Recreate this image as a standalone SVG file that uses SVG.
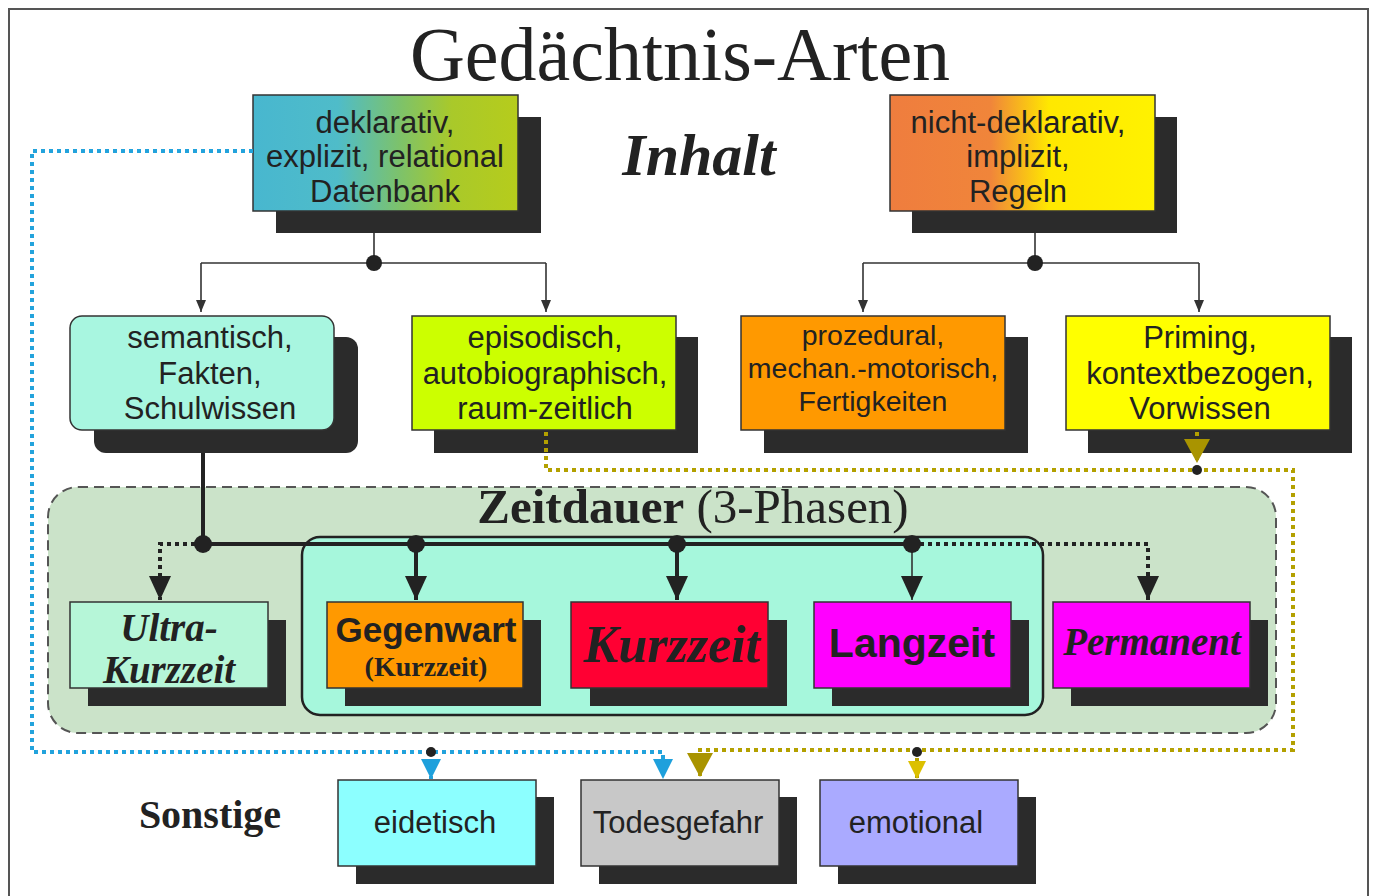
<svg xmlns="http://www.w3.org/2000/svg" width="1375" height="896" viewBox="0 0 1375 896">
  <style>
    .sans { font-family: "Liberation Sans", Arial, sans-serif; fill: #222; text-anchor: middle; }
    .serif { font-family: "Liberation Serif", "Times New Roman", serif; fill: #222; text-anchor: middle; }
    .box { stroke: #333; stroke-width: 1.5; }
    .shadow { fill: #2b2b2b; }
    .thin { fill: none; stroke: #333; stroke-width: 1.6; }
    .thick { fill: none; stroke: #222; stroke-width: 4; }
    .dotBlack { fill: none; stroke: #222; stroke-width: 4; stroke-dasharray: 4 4; }
    .dotBlue { fill: none; stroke: #23a3dc; stroke-width: 4; stroke-dasharray: 4 4; }
    .dotGold { fill: none; stroke: #b3a000; stroke-width: 4; stroke-dasharray: 4 4; }
    .joint { fill: #222; }
  </style>
  <defs>
    <linearGradient id="gradDekl" x1="0" y1="0" x2="1" y2="0">
      <stop offset="0" stop-color="#48b7cf"/>
      <stop offset="0.32" stop-color="#4fbcc9"/>
      <stop offset="0.55" stop-color="#7cc26c"/>
      <stop offset="0.75" stop-color="#a9c92a"/>
      <stop offset="1" stop-color="#b6cc1c"/>
    </linearGradient>
    <linearGradient id="gradNicht" x1="0" y1="0" x2="1" y2="0">
      <stop offset="0" stop-color="#ef7d3e"/>
      <stop offset="0.38" stop-color="#f0853a"/>
      <stop offset="0.6" stop-color="#ffe800"/>
      <stop offset="1" stop-color="#fff200"/>
    </linearGradient>
    <marker id="arrowThin" viewBox="0 0 12 10" refX="12" refY="5" markerWidth="12" markerHeight="10" markerUnits="userSpaceOnUse" orient="auto">
      <path d="M0,0 L12,5 L0,10 z" fill="#333"/>
    </marker>
    <marker id="arrowBig" viewBox="0 0 24 22" refX="24" refY="11" markerWidth="24" markerHeight="22" markerUnits="userSpaceOnUse" orient="auto">
      <path d="M0,0 L24,11 L0,22 z" fill="#222"/>
    </marker>
    <marker id="arrowBlue" viewBox="0 0 20 20" refX="20" refY="10" markerWidth="20" markerHeight="20" markerUnits="userSpaceOnUse" orient="auto">
      <path d="M0,0 L20,10 L0,20 z" fill="#1ea0dc"/>
    </marker>
    <marker id="arrowOlive" viewBox="0 0 24 26" refX="24" refY="13" markerWidth="24" markerHeight="26" markerUnits="userSpaceOnUse" orient="auto">
      <path d="M0,0 L24,13 L0,26 z" fill="#a99400"/>
    </marker>
    <marker id="arrowYellow" viewBox="0 0 18 18" refX="18" refY="9" markerWidth="18" markerHeight="18" markerUnits="userSpaceOnUse" orient="auto">
      <path d="M0,0 L18,9 L0,18 z" fill="#dcc000"/>
    </marker>
  </defs>

  <!-- page -->
  <rect x="0" y="0" width="1375" height="896" fill="#ffffff"/>
  <rect x="9" y="9" width="1359" height="900" fill="none" stroke="#555" stroke-width="2"/>

  <text class="serif" x="680" y="80" font-size="76">Gedächtnis-Arten</text>
  <text class="serif" x="699" y="175" font-size="60" font-weight="bold" font-style="italic">Inhalt</text>

  <!-- duration panel -->
  <g id="panel-zeitdauer">
    <rect x="48" y="487" width="1228" height="246" rx="30" fill="#cbe3c9" stroke="#555" stroke-width="2" stroke-dasharray="10 6"/>
    <rect x="302" y="537" width="741" height="178" rx="18" fill="#a6f7dc" stroke="#222" stroke-width="2.5"/>
    <text class="serif" x="693" y="523" font-size="49"><tspan font-weight="bold">Zeitdauer</tspan> (3-Phasen)</text>
  </g>

  <text class="serif" x="210" y="828" font-size="40" font-weight="bold">Sonstige</text>

  <!-- content nodes -->
  <g id="node-deklarativ">
    <rect class="shadow" x="276" y="117" width="265" height="116"/>
    <rect class="box" x="253" y="95" width="265" height="116" fill="url(#gradDekl)"/>
    <text class="sans" x="385" y="133" font-size="31">deklarativ,</text>
    <text class="sans" x="385" y="167" font-size="31">explizit, relational</text>
    <text class="sans" x="385" y="202" font-size="31">Datenbank</text>
  </g>

  <g id="node-nicht-deklarativ">
    <rect class="shadow" x="912" y="117" width="265" height="116"/>
    <rect class="box" x="890" y="95" width="265" height="116" fill="url(#gradNicht)"/>
    <text class="sans" x="1018" y="133" font-size="31">nicht-deklarativ,</text>
    <text class="sans" x="1018" y="167" font-size="31">implizit,</text>
    <text class="sans" x="1018" y="202" font-size="31">Regeln</text>
  </g>

  <g id="node-semantisch">
    <rect class="shadow" x="94" y="337" width="264" height="116" rx="12"/>
    <rect class="box" x="70" y="316" width="264" height="114" rx="12" fill="#a8f6e0" stroke-width="2"/>
    <text class="sans" x="210" y="348" font-size="31">semantisch,</text>
    <text class="sans" x="210" y="384" font-size="31">Fakten,</text>
    <text class="sans" x="210" y="419" font-size="31">Schulwissen</text>
  </g>

  <g id="node-episodisch">
    <rect class="shadow" x="434" y="337" width="264" height="116"/>
    <rect class="box" x="412" y="316" width="264" height="114" fill="#ccff00"/>
    <text class="sans" x="545" y="348" font-size="31">episodisch,</text>
    <text class="sans" x="545" y="384" font-size="31">autobiographisch,</text>
    <text class="sans" x="545" y="419" font-size="31">raum-zeitlich</text>
  </g>

  <g id="node-prozedural">
    <rect class="shadow" x="764" y="337" width="264" height="116"/>
    <rect class="box" x="741" y="316" width="264" height="114" fill="#ff9900"/>
    <text class="sans" x="873" y="345" font-size="28.5">prozedural,</text>
    <text class="sans" x="873" y="378" font-size="28.5">mechan.-motorisch,</text>
    <text class="sans" x="873" y="411" font-size="28.5">Fertigkeiten</text>
  </g>

  <g id="node-priming">
    <rect class="shadow" x="1088" y="337" width="264" height="116"/>
    <rect class="box" x="1066" y="316" width="264" height="114" fill="#ffff00"/>
    <text class="sans" x="1200" y="348" font-size="31">Priming,</text>
    <text class="sans" x="1200" y="384" font-size="31">kontextbezogen,</text>
    <text class="sans" x="1200" y="419" font-size="31">Vorwissen</text>
  </g>

  <!-- duration nodes -->
  <g id="node-ultra-kurzzeit">
    <rect class="shadow" x="88" y="620" width="198" height="86"/>
    <rect class="box" x="70" y="602" width="198" height="86" fill="#b6f6d8"/>
    <text class="serif" x="169" y="641" font-size="39" font-weight="bold" font-style="italic">Ultra-</text>
    <text class="serif" x="169" y="683" font-size="39" font-weight="bold" font-style="italic">Kurzzeit</text>
  </g>

  <g id="node-gegenwart">
    <rect class="shadow" x="345" y="620" width="196" height="86"/>
    <rect class="box" x="327" y="602" width="196" height="86" fill="#ff9900"/>
    <text class="sans" x="426" y="642" font-size="35" font-weight="bold">Gegenwart</text>
    <text class="serif" x="426" y="676" font-size="28" font-weight="bold">(Kurzzeit)</text>
  </g>

  <g id="node-kurzzeit">
    <rect class="shadow" x="590" y="620" width="197" height="86"/>
    <rect class="box" x="571" y="602" width="197" height="86" fill="#ff0033"/>
    <text class="serif" x="672" y="662" font-size="52" font-weight="bold" font-style="italic">Kurzzeit</text>
  </g>

  <g id="node-langzeit">
    <rect class="shadow" x="832" y="620" width="197" height="86"/>
    <rect class="box" x="814" y="602" width="197" height="86" fill="#ff00ff"/>
    <text class="sans" x="912" y="657" font-size="41" font-weight="bold">Langzeit</text>
  </g>

  <g id="node-permanent">
    <rect class="shadow" x="1071" y="620" width="197" height="86"/>
    <rect class="box" x="1053" y="602" width="197" height="86" fill="#ff00ff"/>
    <text class="serif" x="1152" y="655" font-size="39" font-weight="bold" font-style="italic">Permanent</text>
  </g>

  <!-- other kinds -->
  <g id="node-eidetisch">
    <rect class="shadow" x="356" y="797" width="198" height="87"/>
    <rect class="box" x="338" y="780" width="198" height="86" fill="#8cffff"/>
    <text class="sans" x="435" y="833" font-size="31">eidetisch</text>
  </g>

  <g id="node-todesgefahr">
    <rect class="shadow" x="599" y="797" width="198" height="87"/>
    <rect class="box" x="581" y="780" width="198" height="86" fill="#c8c8c8"/>
    <text class="sans" x="678" y="833" font-size="31">Todesgefahr</text>
  </g>

  <g id="node-emotional">
    <rect class="shadow" x="838" y="797" width="198" height="87"/>
    <rect class="box" x="820" y="780" width="198" height="86" fill="#aaaaff"/>
    <text class="sans" x="916" y="833" font-size="31">emotional</text>
  </g>

  <!-- connectors (drawn last so they run over the drop shadows) -->
  <g id="connectors">
    <!-- declarative split -->
    <path class="thin" d="M374,233 V263"/>
    <path class="thin" d="M201,263 H546"/>
    <path class="thin" d="M201,263 V312" marker-end="url(#arrowThin)"/>
    <path class="thin" d="M546,263 V312" marker-end="url(#arrowThin)"/>
    <circle class="joint" cx="374" cy="263" r="8"/>
    <!-- non-declarative split -->
    <path class="thin" d="M1035,233 V263"/>
    <path class="thin" d="M863,263 H1199"/>
    <path class="thin" d="M863,263 V312" marker-end="url(#arrowThin)"/>
    <path class="thin" d="M1199,263 V312" marker-end="url(#arrowThin)"/>
    <circle class="joint" cx="1035" cy="263" r="8"/>

    <!-- time phases -->
    <path class="thick" d="M203,453 V544 H912"/>
    <path class="dotBlack" d="M203,544 H160 V600" marker-end="url(#arrowBig)"/>
    <path class="thick" d="M416,544 V600" marker-end="url(#arrowBig)"/>
    <path class="thick" d="M677,544 V600" marker-end="url(#arrowBig)"/>
    <path class="thin" stroke-width="2.5" d="M912,544 V600" marker-end="url(#arrowBig)"/>
    <path class="dotBlack" d="M912,544 H1148 V600" marker-end="url(#arrowBig)"/>
    <circle class="joint" cx="203" cy="544" r="9"/>
    <circle class="joint" cx="416" cy="544" r="9"/>
    <circle class="joint" cx="677" cy="544" r="9"/>
    <circle class="joint" cx="912" cy="544" r="9"/>

    <!-- declarative to "Sonstige" -->
    <path class="dotBlue" d="M253,151 H32 V752 H663 V779" marker-end="url(#arrowBlue)"/>
    <path class="dotBlue" d="M431,752 V779" marker-end="url(#arrowBlue)"/>
    <circle class="joint" cx="431" cy="752" r="5"/>

    <!-- episodic / priming to "Sonstige" -->
    <path class="dotGold" d="M546,432 V470 H1293 V750 H700 V777" marker-end="url(#arrowOlive)"/>
    <path class="dotGold" d="M1197,432 V463" marker-end="url(#arrowOlive)"/>
    <circle class="joint" cx="1197" cy="470" r="5"/>
    <path class="dotGold" d="M917,750 V779" marker-end="url(#arrowYellow)"/>
    <circle class="joint" cx="917" cy="752" r="5"/>
  </g>
</svg>
